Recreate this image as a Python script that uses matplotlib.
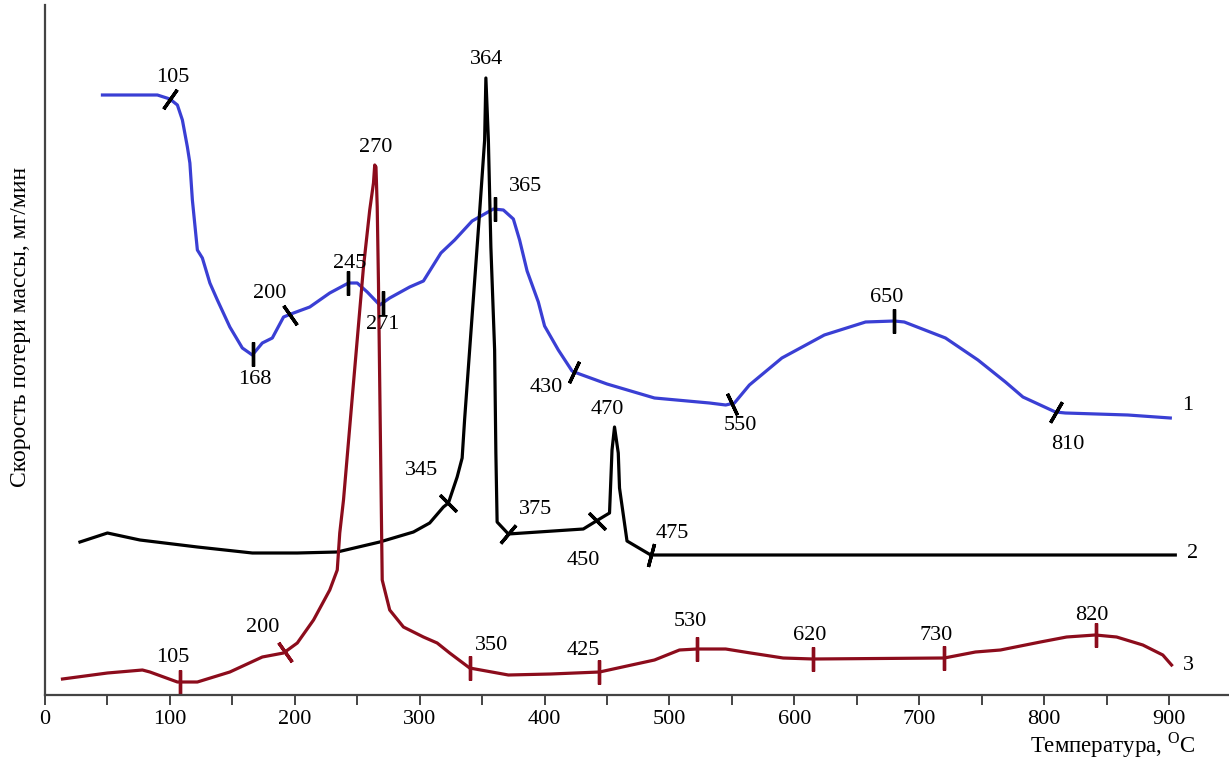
import matplotlib
matplotlib.use('Agg')
import matplotlib.pyplot as plt
import numpy as np

plt.rcParams['font.family'] = ['Liberation Serif', 'DejaVu Serif']
plt.rcParams['mathtext.fontset'] = 'custom'
plt.rcParams['mathtext.rm'] = 'Liberation Serif'

# кривая 1 (синяя)
t1 = [46, 90, 100, 106, 110, 114, 116, 118, 122, 126, 132, 138, 148, 158, 166, 174,
      182, 191, 199, 212, 228, 243, 250, 258, 268, 276, 292, 303, 317, 328, 342, 359,
      367, 375, 380, 386, 395, 400, 411, 422, 428, 450, 488, 532, 545, 552, 564, 590,
      624, 657, 680, 688, 721, 747, 769, 783, 809, 817, 867, 901]
v1 = [6.00, 6.00, 5.96, 5.90, 5.75, 5.48, 5.32, 4.95, 4.45, 4.37, 4.12, 3.95, 3.68,
      3.47, 3.40, 3.52, 3.57, 3.78, 3.82, 3.88, 4.02, 4.12, 4.12, 4.03, 3.90, 3.97,
      4.08, 4.14, 4.42, 4.55, 4.74, 4.86, 4.85, 4.76, 4.55, 4.24, 3.93, 3.69, 3.45,
      3.24, 3.21, 3.11, 2.97, 2.92, 2.90, 2.92, 3.10, 3.37, 3.60, 3.73, 3.74, 3.73,
      3.57, 3.35, 3.13, 2.98, 2.83, 2.82, 2.80, 2.77]

# кривая 2 (черная)
t2 = [28, 50, 76, 122, 166, 202, 234, 268, 295, 308, 319, 323, 330, 334, 336, 340,
      344, 348, 352, 353, 355, 357, 360, 361, 362, 371, 431, 444, 452, 454, 456, 459,
      460, 466, 485, 905]
v2 = [1.53, 1.62, 1.55, 1.48, 1.42, 1.42, 1.43, 1.53, 1.63, 1.72, 1.88, 1.92, 2.18,
      2.37, 2.76, 3.45, 4.14, 4.83, 5.55, 6.17, 5.55, 4.48, 3.45, 2.42, 1.73, 1.61,
      1.66, 1.76, 1.82, 2.45, 2.68, 2.42, 2.07, 1.54, 1.40, 1.40]

# кривая 3 (красная)
t3 = [14, 50, 78, 84, 106, 122, 148, 174, 191, 202, 215, 228, 234, 236, 239, 247,
      255, 260, 263, 264, 265, 266, 267, 268, 270, 276, 287, 303, 314, 324, 340, 371,
      405, 444, 488, 508, 522, 545, 565, 591, 615, 720, 745, 765, 797, 818, 841, 858,
      879, 895, 902]
v3 = [0.16, 0.22, 0.25, 0.23, 0.13, 0.13, 0.23, 0.38, 0.42, 0.52, 0.75, 1.05, 1.25,
      1.62, 1.95, 3.12, 4.28, 4.85, 5.12, 5.30, 5.28, 4.88, 4.12, 3.12, 1.15, 0.85,
      0.68, 0.58, 0.52, 0.42, 0.27, 0.20, 0.21, 0.23, 0.35, 0.45, 0.46, 0.46, 0.42,
      0.37, 0.36, 0.37, 0.43, 0.45, 0.53, 0.58, 0.60, 0.58, 0.50, 0.40, 0.30]

# отметки температур на кривых
m1_t = [100, 166.5, 196, 242.6, 270.6, 360.3, 423.5, 550, 679.7, 809.5]
m1_lbl = ['105', '168', '200', '245', '271', '365', '430', '550', '650', '810']
m2_t = [322.7, 370.7, 442, 485.2]
m2_lbl = ['345', '375', '450', '475']
m3_t = [108, 192, 340, 443.6, 522, 615, 720, 841.5]
m3_lbl = ['105', '200', '350', '425', '530', '620', '730', '820']

blue = '#3a3fd4'
red = '#8c0c1c'
fs = 16

fig = plt.figure(figsize=(12.29, 7.67), dpi=100)
ax = fig.add_axes([45 / 1229, 72 / 767, 1 - 45 / 1229, 690 / 767])

ax.plot(t1, v1, color=blue, lw=2.3, solid_joinstyle='round')
ax.plot(t2, v2, color='black', lw=2.3, solid_joinstyle='round')
ax.plot(t3, v3, color=red, lw=2.3, solid_joinstyle='round')


def marks(ts, lbls, tx, vy, color, angles, offs):
    for t, lbl, a, (dx, dy) in zip(ts, lbls, angles, offs):
        y = np.interp(t, tx, vy)
        ax.plot([t], [y], marker=(2, 2, a), ms=17, mew=2.4, color=color)
        ax.annotate(lbl, (t, y), xytext=(dx, dy), textcoords='offset pixels',
                    ha='center', va='center', fontsize=fs)


marks(m1_t, m1_lbl, t1, v1, 'black',
      [-35, 0, 35, 0, 0, 0, -25, 25, 0, -30],
      [(3, 21), (2, -25), (-20, 21), (2, 20), (0, -22), (31, 23), (-28, -16),
       (8, -22), (-7, 24), (12, -32)])
marks(m2_t, m2_lbl, t2, v2, 'black',
      [45, -40, 45, -15],
      [(-26, 33), (28, 24), (-14, -40), (21, 21)])
marks(m3_t, m3_lbl, t3, v3, red,
      [0, 35, 0, 0, 0, 0, 0, 0],
      [(-7, 25), (-22, 25), (22, 23), (-16, 22), (-7, 27), (-3, 24), (-8, 22), (-4, 20)])

# подписи пиков
for lbl, tx, vy, dx, dy in [('364', t2, v2, 1, 18), ('470', t2, v2, -7, 17), ('270', t3, v3, 1, 17)]:
    k = int(np.argmax(vy)) if lbl != '470' else int(np.argmax(np.where(np.array(tx) > 420, vy, 0)))
    ax.annotate(lbl, (tx[k], vy[k]), xytext=(dx, dy), textcoords='offset pixels',
                ha='center', va='center', fontsize=fs)

# номера кривых
for num, tx, vy, dy in [('1', t1, v1, 13), ('2', t2, v2, 2), ('3', t3, v3, 0)]:
    ax.annotate(num, (tx[-1], vy[-1]), xytext=(17, dy), textcoords='offset pixels',
                ha='center', va='center', fontsize=fs)

ax.set_xlim(0, 948)
ax.set_ylim(0, 6.9)
ax.spines['top'].set_visible(False)
ax.spines['right'].set_visible(False)
for s in ['left', 'bottom']:
    ax.spines[s].set_color('#444444')
    ax.spines[s].set_linewidth(1.6)
ax.set_yticks([])
ax.set_xticks(np.arange(0, 901, 50))
ax.set_xticklabels([str(v) if v % 100 == 0 else '' for v in range(0, 901, 50)], fontsize=fs)
ax.tick_params(axis='x', direction='out', length=7, width=1.4, color='#444444', pad=4)

fig.text(0.017, 0.574, 'Скорость потери массы, мг/мин', rotation=90,
         ha='center', va='center', fontsize=17)
fig.text(0.973, 0.029, r'Температура, $^{\rm O}$C', ha='right', va='center', fontsize=16.5)

fig.savefig('out.png', dpi=100)
